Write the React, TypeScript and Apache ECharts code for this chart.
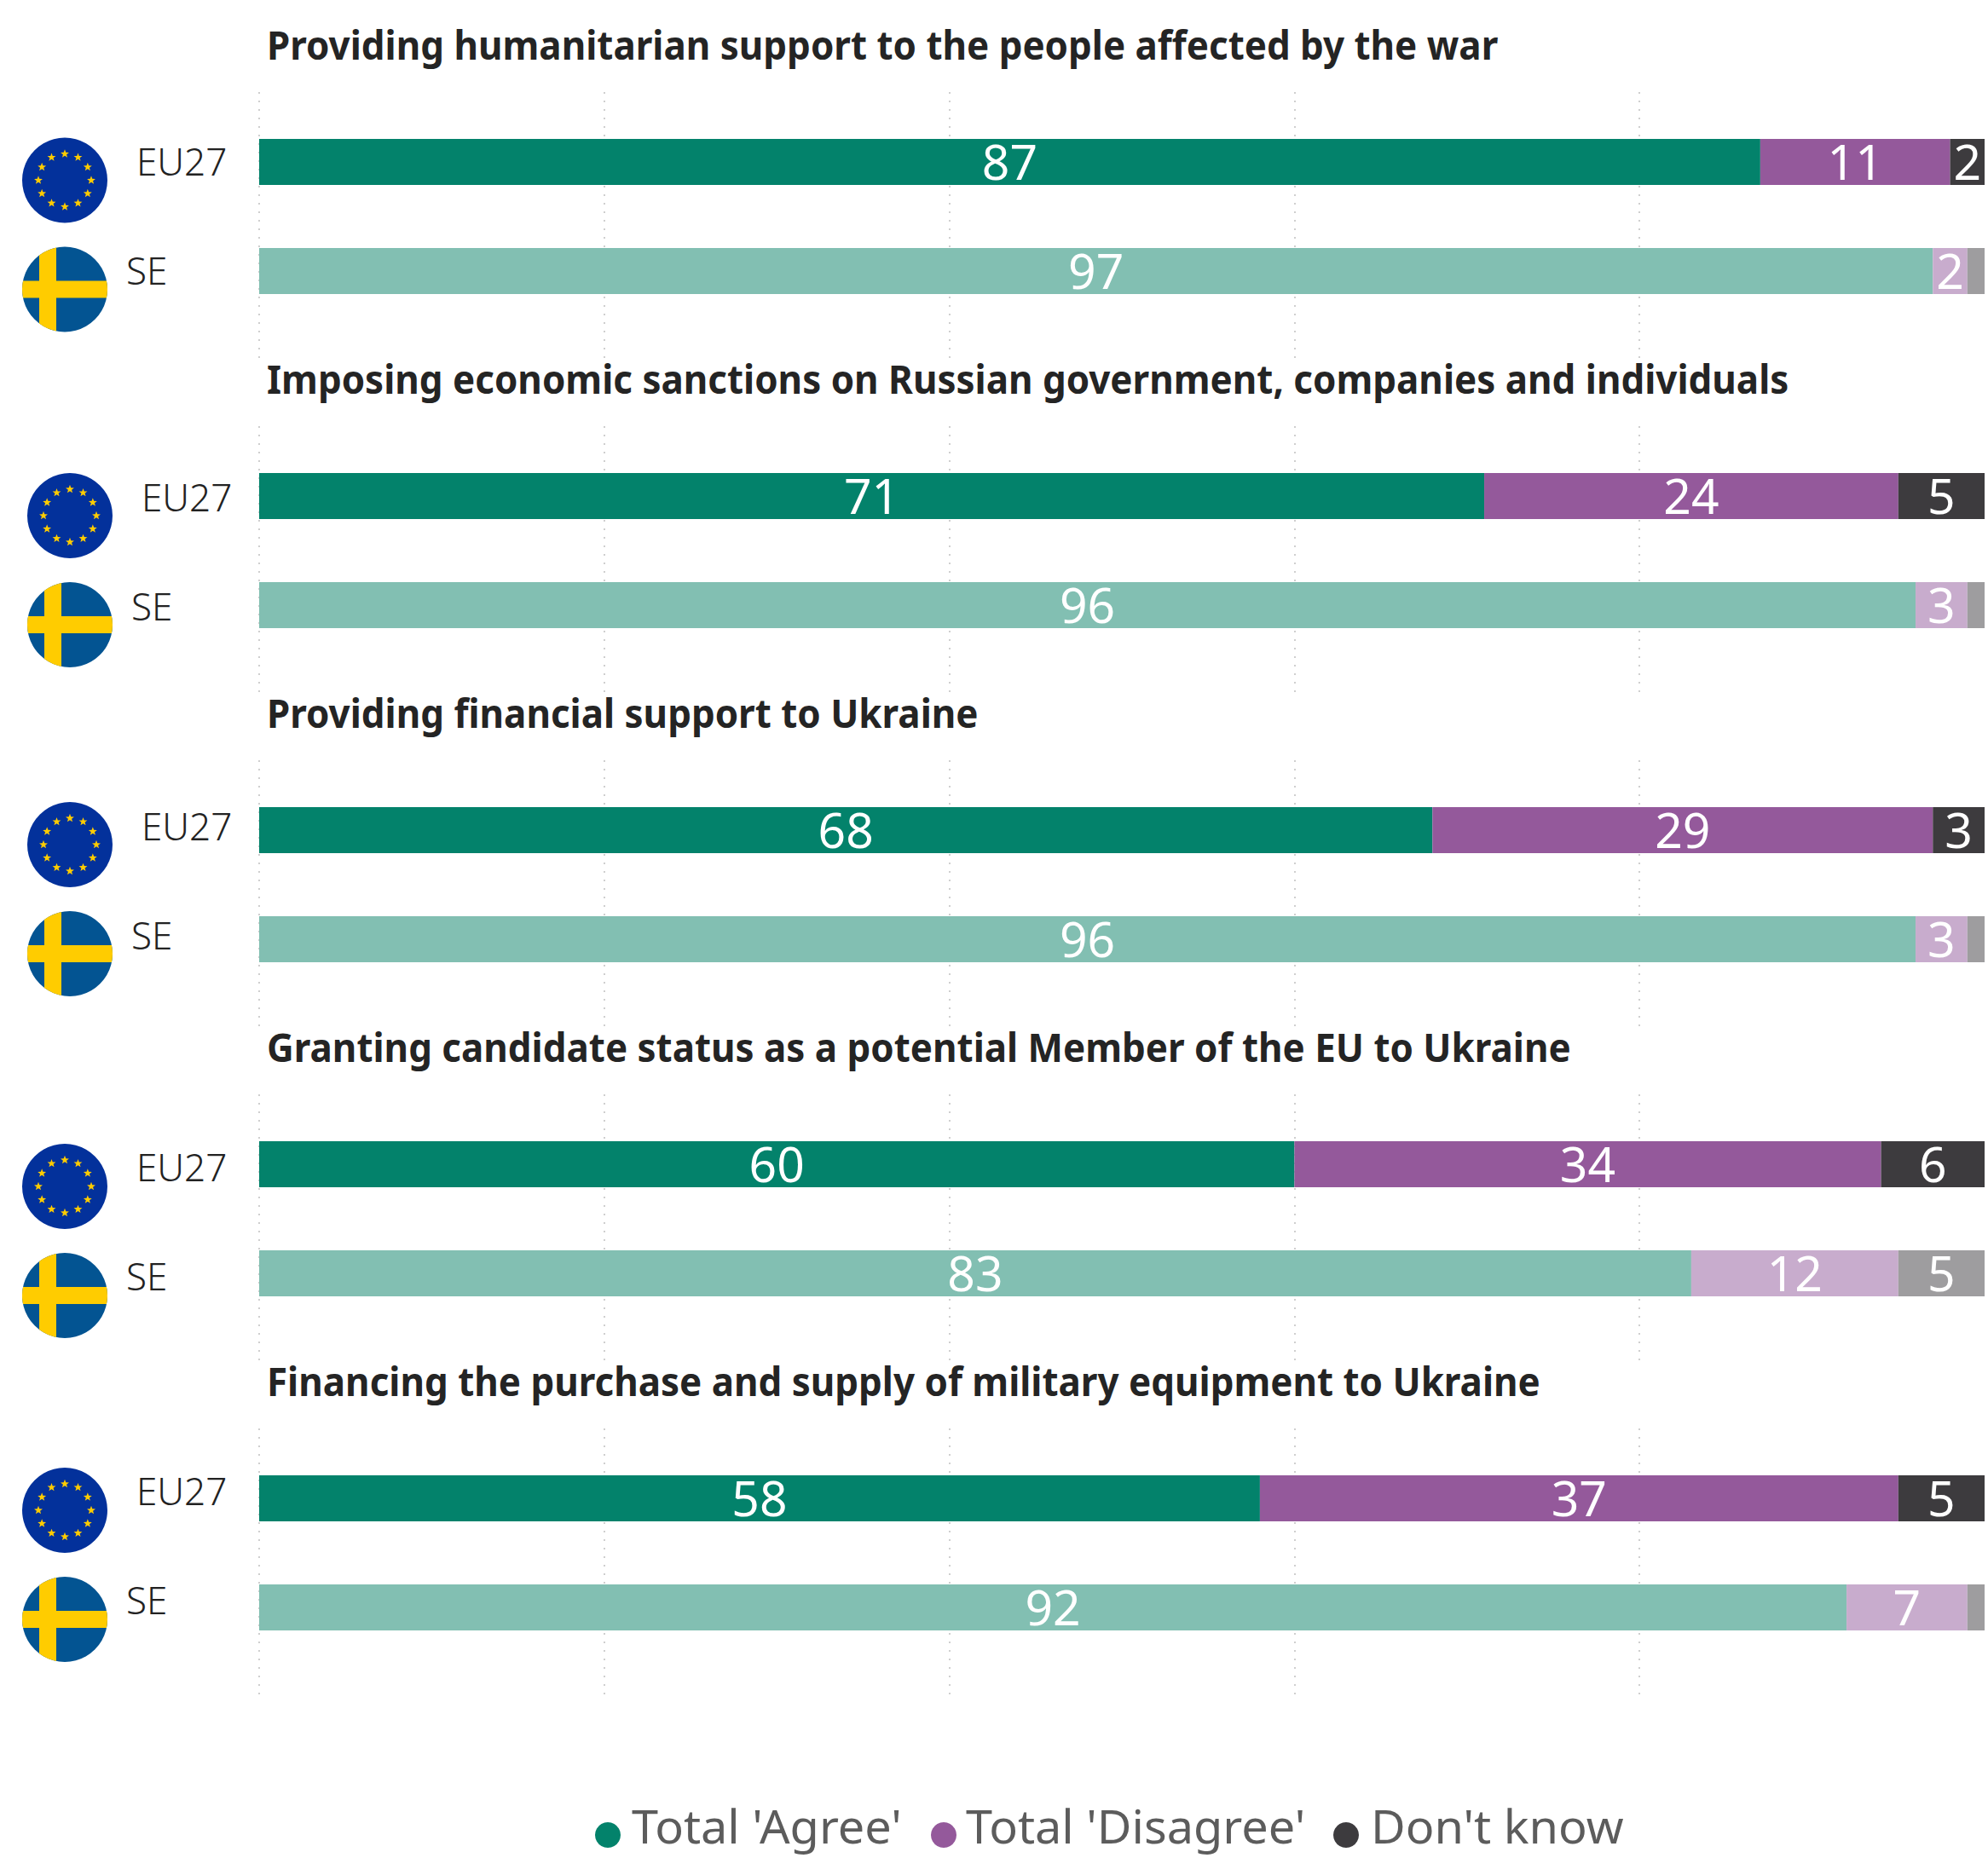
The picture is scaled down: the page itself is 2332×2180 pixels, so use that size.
import React, { useEffect, useRef } from "react";
import * as echarts from "echarts";

const questions = [
  "Providing humanitarian support to the people affected by the war",
  "Imposing economic sanctions on Russian government, companies and individuals",
  "Providing financial support to Ukraine",
  "Granting candidate status as a potential Member of the EU to Ukraine",
  "Financing the purchase and supply of military equipment to Ukraine",
];
const regions = ["EU27", "SE"];
const agree = [[87, 97], [71, 96], [68, 96], [60, 83], [58, 92]];
const disagree = [[11, 2], [24, 3], [29, 3], [34, 12], [37, 7]];
const dontKnow = [[2, 1], [5, 1], [3, 1], [6, 5], [5, 1]];
const seriesNames = ["Total 'Agree'", "Total 'Disagree'", "Don't know"];
const strongColors = ["#03826B", "#94599B", "#3D3B3E"];
const paleColors = ["#82BFB2", "#C8ACCD", "#9E9D9F"];
const legendIconX = [713, 1107, 1579];
const legendTextX = [741, 1133, 1608];

const TOP0 = 163, STEP = 392, X0 = 304, X1 = 2328;
const flagX = [76, 82, 82, 76, 76];
const flagYOffset = [48.5, 50, 44, 53, 41];
const labelYOffset = [26, 28, 22, 30, 18];
const labelXShift = [0, 6, 6, 0, 0];

const star = (cx: number, cy: number, r: number) => {
  let d = "";
  for (let i = 0; i < 10; i++) {
    const rr = i % 2 ? r * 0.42 : r;
    const a = -Math.PI / 2 + (i * Math.PI) / 5;
    d += `${i ? "L" : "M"}${(cx + rr * Math.cos(a)).toFixed(2)} ${(cy + rr * Math.sin(a)).toFixed(2)}`;
  }
  return d + "Z";
};
let starsD = "";
for (let i = 0; i < 12; i++) {
  const a = (i * Math.PI) / 6;
  starsD += star(50 + 31 * Math.cos(a), 50 + 31 * Math.sin(a), 5.2);
}
echarts.graphic.registerShape("euStars", echarts.graphic.extendPath(starsD, {}));
echarts.graphic.registerShape(
  "seCross",
  echarts.graphic.extendPath(
    "M20 10A50 50 0 0 1 40 1L40 40L99 40A50 50 0 0 1 99 60L40 60L40 99A50 50 0 0 1 20 90L20 60L1 60A50 50 0 0 1 1 40L20 40Z",
    {}
  )
);

export default function App() {
  const ref = useRef<HTMLDivElement>(null);
  useEffect(() => {
    document.body.style.margin = "0";
    const chart = echarts.init(ref.current!, null, { renderer: "svg" });
    const grid: any[] = [], xAxis: any[] = [], yAxis: any[] = [], series: any[] = [], graphic: any[] = [];
    questions.forEach((q, k) => {
      const dy = k * STEP;
      grid.push({ left: X0, width: X1 - X0, top: 108 + dy, height: 312 });
      xAxis.push({
        gridIndex: 2 * k, type: "value", min: 0, max: 100, interval: 20,
        axisLine: { show: false }, axisTick: { show: false }, axisLabel: { show: false },
        splitLine: { show: true, showMaxLine: false, lineStyle: { color: "#cfcfcf", width: 2, type: [2, 8] } },
      });
      yAxis.push({ gridIndex: 2 * k, type: "category", data: [], show: false });
      grid.push({ left: X0, width: X1 - X0, top: TOP0 - 37 + dy, height: 256 });
      xAxis.push({ gridIndex: 2 * k + 1, type: "value", min: 0, max: 100, show: false, splitLine: { show: false } });
      yAxis.push({ gridIndex: 2 * k + 1, type: "category", inverse: true, data: regions, show: false });
      [agree, disagree, dontKnow].forEach((vals, s) => {
        series.push({
          name: seriesNames[s], type: "bar", stack: "p" + k, barWidth: 54,
          xAxisIndex: 2 * k + 1, yAxisIndex: 2 * k + 1, color: strongColors[s],
          data: vals[k].map((v, i) => ({ value: v, itemStyle: { color: i ? paleColors[s] : strongColors[s] } })),
          label: {
            show: true, position: "inside", offset: [0, -1], color: "#fff", fontFamily: "Noto Sans", fontSize: 57, fontWeight: 400,
            formatter: (p: any) => (p.value > 1 ? String(p.value) : ""),
          },
        });
      });
      const fx = flagX[k];
      const eTop = TOP0 + dy + flagYOffset[k] - 50;
      const sTop = eTop + 128;
      graphic.push(
        { type: "circle", shape: { cx: fx, cy: eTop + 50, r: 50 }, style: { fill: "#03319B" } },
        { type: "euStars", x: fx - 50, y: eTop, style: { fill: "#FFCC00" } },
        { type: "circle", shape: { cx: fx, cy: sTop + 50, r: 50 }, style: { fill: "#035492" } },
        { type: "seCross", x: fx - 50, y: sTop, style: { fill: "#FFCC00" } },
        { type: "text", x: 160 + labelXShift[k], y: TOP0 + dy + labelYOffset[k], style: { text: regions[0], fill: "#222", font: "300 44px 'Noto Sans'", textVerticalAlign: "middle" } },
        { type: "text", x: 148 + labelXShift[k], y: TOP0 + dy + 128 + labelYOffset[k], style: { text: regions[1], fill: "#222", font: "300 44px 'Noto Sans'", textVerticalAlign: "middle" } },
        { type: "text", x: 313, y: 52 + dy, scaleX: 0.955, style: { text: q, fill: "#242424", font: "bold 46px 'Noto Sans'", textVerticalAlign: "middle" } }
      );
    });
    seriesNames.forEach((name, i) => {
      graphic.push(
        { type: "circle", shape: { cx: legendIconX[i], cy: 2153, r: 15 }, style: { fill: strongColors[i] } },
        { type: "text", x: legendTextX[i], y: 2142, scaleX: 1.015, style: { text: name, fill: "#5c5c5c", font: "400 55px 'Noto Sans'", textVerticalAlign: "middle" } }
      );
    });
    chart.setOption({
      animation: false,
      backgroundColor: "#fff",
      grid, xAxis, yAxis, series, graphic,
    });
    return () => chart.dispose();
  }, []);
  return <div ref={ref} style={{ position: "absolute", left: 0, top: 0, width: 2332, height: 2180 }} />;
}
